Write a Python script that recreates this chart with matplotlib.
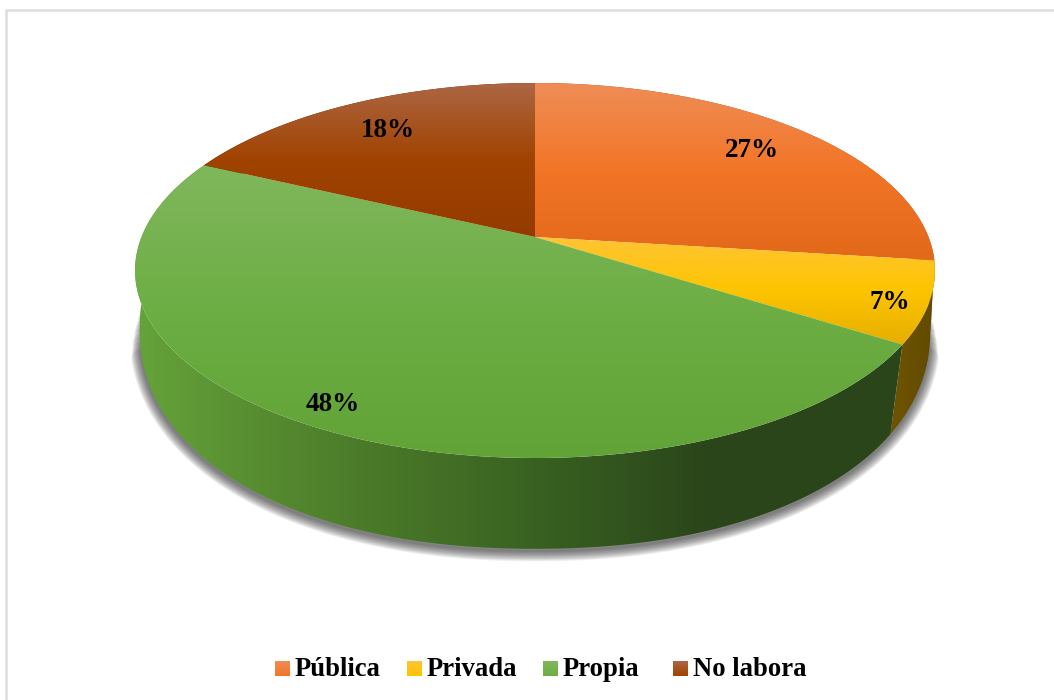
import numpy as np
import matplotlib
matplotlib.use("Agg")
import matplotlib.pyplot as plt
from matplotlib.colors import LinearSegmentedColormap
from matplotlib.patches import Polygon

categories = ["Pública", "Privada", "Propia", "No labora"]
values = [27, 7, 48, 18]
labels = ["27%", "7%", "48%", "18%"]

# gradient stops, light at the top of each slice
top_colors = [
    ["#ef8d57", "#f27526", "#e2681a"],
    ["#ffc535", "#fdc400", "#e6ae00"],
    ["#80b75c", "#6dae44", "#61a336"],
    ["#ad6644", "#a04300", "#943b00"],
]
wall_colors = [
    ["#8a4a1a", "#8a4a1a"],
    ["#6f5400", "#614a00"],
    ["#65a33a", "#4f802b", "#3a6422", "#2a451a", "#2b461a"],
    ["#5c2800", "#5c2800"],
]
label_radius = [0.80, 0.92, 0.91, 0.78]
label_shift = [(1, 1), (-6, 6), (-1, -1), (0, 0)]
legend_x = [275, 407, 543, 673]

plt.rcParams["font.family"] = ["Liberation Serif", "DejaVu Serif"]

fig = plt.figure(figsize=(10.54, 7), dpi=100)
ax = fig.add_axes([0, 0, 1, 1])


def project(theta, r=1.0, apex_y=237, a=393.5, b=181.5, k=0.1787):
    # theta clockwise from 12 o'clock, perspective view of the disc
    x = r * np.sin(theta)
    y = r * np.cos(theta)
    d = 1 + k * y
    return 535 + a * x / d, apex_y - b * y / d


def project_low(theta, n=2.15):
    # lower rim, a bit boxier than a true ellipse
    rx, ry, cy = 395.4, 219.6, 329
    x, y = project(theta, apex_y=305, a=393, b=217, k=0.11)
    u = (x - 535) / rx
    v = (y - cy) / ry
    u = np.sign(u) * np.abs(u) ** (2 / n)
    v = np.sign(v) * np.abs(v) ** (2 / n)
    return 535 + rx * u, cy + ry * v


def fill_gradient(points, colors, vertical=True, zorder=2):
    poly = Polygon(points, closed=True, facecolor="none", edgecolor="none", transform=ax.transData)
    ax.add_patch(poly)
    cmap = LinearSegmentedColormap.from_list("g", colors)
    ramp = np.linspace(0, 1, 256)
    ramp = ramp[:, None] if vertical else ramp[None, :]
    x0, y0 = points.min(axis=0)
    x1, y1 = points.max(axis=0)
    im = ax.imshow(ramp, cmap=cmap, extent=(x0, x1, y1, y0), aspect="auto",
                   zorder=zorder, interpolation="bilinear")
    im.set_clip_path(poly)


bounds = np.cumsum([0] + values) / sum(values) * 2 * np.pi

# soft shadow below the disc, wide strokes start lower so the ends fade out
t = np.linspace(np.pi * 0.5, np.pi * 1.5, 400)
sx, sy = project_low(t)
for lw in np.arange(15, 0, -1.5):
    keep = sy > 305 + lw * 3.5
    ax.plot(sx[keep], sy[keep] + 2, color="#303030", lw=lw, alpha=0.09, zorder=1,
            solid_capstyle="round", solid_joinstyle="round")

# side walls
for i in range(len(values)):
    t = np.linspace(bounds[i], bounds[i + 1], 200)
    tx, ty = project(t)
    bx, by = project_low(t)
    pts = np.column_stack([np.r_[tx, bx[::-1]], np.r_[ty, by[::-1]]])
    fill_gradient(pts, wall_colors[i], vertical=False, zorder=2 + i * 0.01)

# top face
for i in range(len(values)):
    t = np.linspace(bounds[i], bounds[i + 1], 200)
    tx, ty = project(t)
    pts = np.column_stack([np.r_[535, tx], np.r_[237, ty]])
    fill_gradient(pts, top_colors[i], zorder=3 + i * 0.01)

for i in range(len(values)):
    mid = (bounds[i] + bounds[i + 1]) / 2
    lx, ly = project(mid, label_radius[i])
    ax.text(lx + label_shift[i][0], ly + label_shift[i][1], labels[i], ha="center", va="center",
            fontsize=19.6, fontweight="bold", color="black", zorder=5)

# legend
for i in range(len(categories)):
    x0 = legend_x[i]
    square = np.array([[x0, 661], [x0 + 14.5, 661], [x0 + 14.5, 676], [x0, 676]])
    fill_gradient(square, top_colors[i][:2], zorder=5)
    ax.text(x0 + 20, 676.5, categories[i], ha="left", va="baseline", fontsize=19.2,
            fontweight="bold", color="black", zorder=5)

# chart border, cropped on the right and at the bottom
ax.plot([6, 6, 1054], [700, 10, 10], color="#dddddd", lw=1.8, zorder=0, solid_joinstyle="miter")

ax.set_xlim(0, 1054)
ax.set_ylim(700, 0)
ax.axis("off")

fig.savefig("out.png", dpi=100)
plt.close(fig)
